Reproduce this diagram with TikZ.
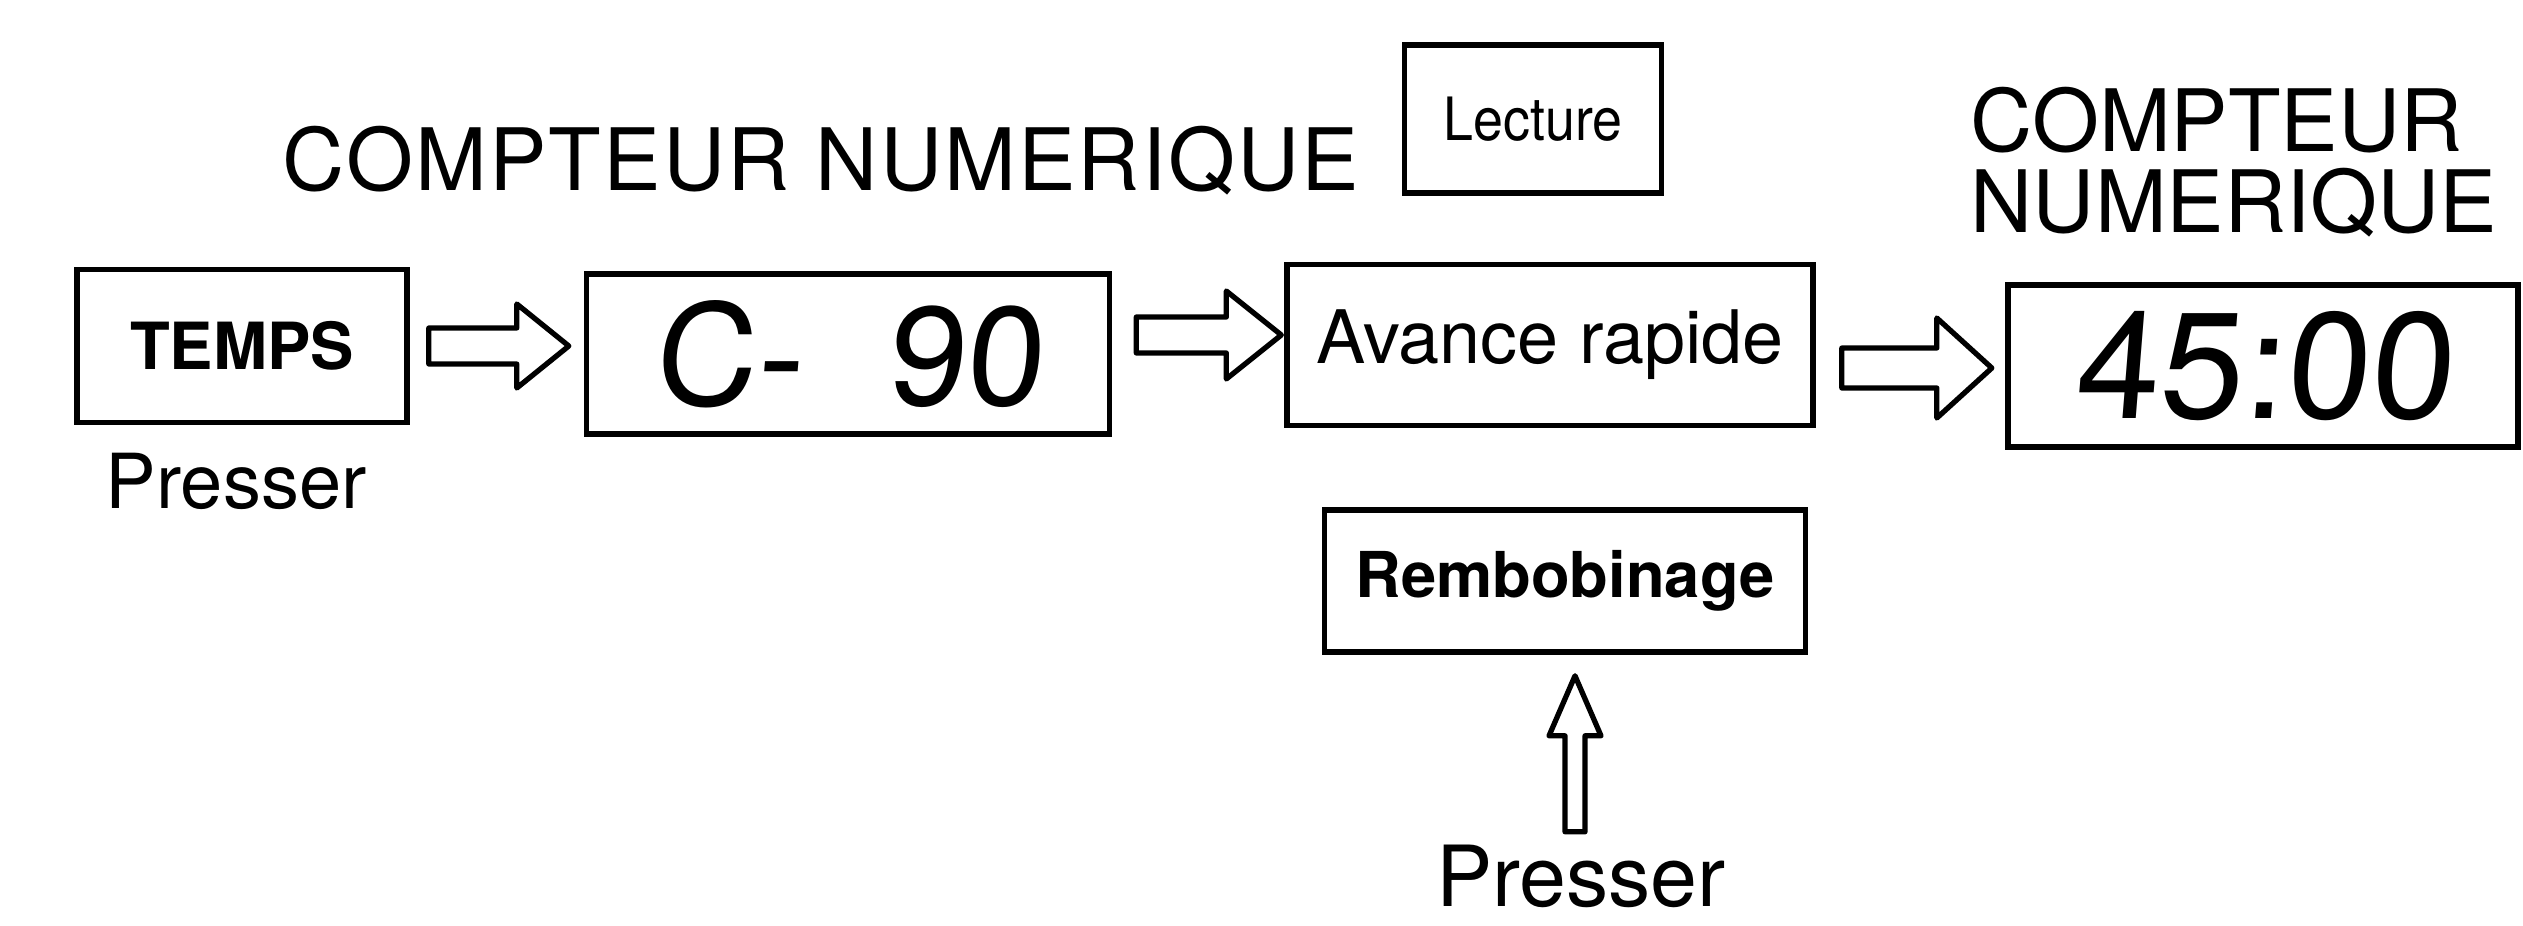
\documentclass[tikz,border=0pt]{standalone}
\usepackage{fontspec}
\setmainfont{TeX Gyre Heros}
\newfontfamily\lcdfont{TeX Gyre Heros}[FakeSlant=0.08]
\newfontfamily\condfont{TeX Gyre Heros}[FakeStretch=0.9]
\newfontfamily\widefont{TeX Gyre Heros}[LetterSpace=2.5]
\usetikzlibrary{calc}
\newcommand\blockarr[6]{%
  \draw[barrow, shift={(#1)}, rotate=#2] (0,-#5) -- ({#3-#6},-#5) -- ({#3-#6},-#4) -- (#3,0) -- ({#3-#6},#4) -- ({#3-#6},#5) -- (0,#5) -- cycle;}
\begin{document}
\begin{tikzpicture}[x=0.1mm,y=-0.1mm,
  box/.style={draw, line width=1.6pt, inner sep=0pt, fill=white},
  barrow/.style={draw, line width=1.5pt, line join=round, fill=white},
  lbl/.style={inner sep=0pt},
  fbig/.style={font=\fontsize{24.5pt}{23.3pt}\selectfont},
]
\useasboundingbox (0,0) rectangle (2523,926);
% boxes
\node[box, minimum width=33mm, minimum height=15.3mm,
      font=\bfseries\fontsize{18.5pt}{22pt}\selectfont] (temps) at (242,346) {TEMPS};
\node[box, minimum width=52.3mm, minimum height=16mm,
      font=\lcdfont\fontsize{40pt}{44pt}\selectfont] (c90) at (848,354) {C- \hspace{4.5mm}90};
\node[box, minimum width=52.6mm, minimum height=16.1mm,
      font=\fontsize{21pt}{25pt}\selectfont] (avance) at (1550,345) {Avance rapide};
\node[box, minimum width=51mm, minimum height=16.2mm,
      font=\lcdfont\fontsize{43pt}{47pt}\selectfont] (c4500) at (2263,366) {45:00};
\node[box, minimum width=48.1mm, minimum height=14.2mm,
      font=\bfseries\fontsize{18pt}{22pt}\selectfont] (rembob) at (1565,581) {Rembobinage};
\node[box, minimum width=25.7mm, minimum height=14.8mm,
      font=\condfont\fontsize{17pt}{20pt}\selectfont] (lecture) at (1533,119) {Lecture};
% labels
\node[lbl, anchor=base west, font=\widefont\fontsize{24.5pt}{28pt}\selectfont] (title1) at (282,190) {COMPTEUR NUMERIQUE};
\node[lbl, fbig, anchor=north west, align=left] (title2) at (1970,86) {COMPTEUR\\NUMERIQUE};
\node[lbl, anchor=base west, font=\fontsize{21.6pt}{25pt}\selectfont] (press1) at (105,508) {Presser};
\node[lbl, anchor=base, font=\fontsize{24pt}{28pt}\selectfont] (press2) at (1581,906) {Presser};
% arrows
\coordinate (a1) at ($(temps.east)+(19,0)$);
\coordinate (a2) at ($(c90.east)+(24,-19)$);
\coordinate (a3) at ($(avance.east)+(26,23)$);
\coordinate (a4) at ($(rembob.south)+(10,177)$);
\blockarr{a1}{0}{140}{42}{18}{52}
\blockarr{a2}{0}{145}{44}{18}{55}
\blockarr{a3}{0}{150}{50}{20}{55}
\blockarr{a4}{90}{156}{26}{10}{60}
\end{tikzpicture}
\end{document}
